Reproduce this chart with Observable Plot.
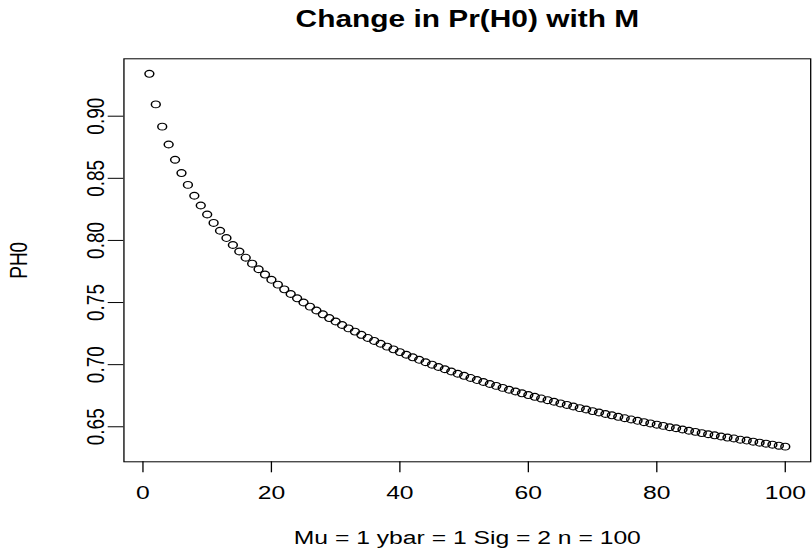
<!DOCTYPE html>
<html>
<head>
<meta charset="utf-8">
<style>
  html, body { margin: 0; padding: 0; background: #fff; }
  #chart { width: 812px; height: 551px; overflow: hidden; }
  #chart svg { display: block; transform-origin: 0 0; }
</style>
<script src="https://cdn.jsdelivr.net/npm/d3@7"></script>
<script src="https://cdn.jsdelivr.net/npm/@observablehq/plot@0.6"></script>
</head>
<body>
<div id="chart"></div>
<script>
// ---- data ----
const title = "Change in Pr(H0) with M";
const xLabel = "Mu = 1 ybar = 1 Sig = 2 n = 100";
const yLabel = "PH0";

const M = [1,2,3,4,5,6,7,8,9,10,11,12,13,14,15,16,17,18,19,20,
  21,22,23,24,25,26,27,28,29,30,31,32,33,34,35,36,37,38,39,40,
  41,42,43,44,45,46,47,48,49,50,51,52,53,54,55,56,57,58,59,60,
  61,62,63,64,65,66,67,68,69,70,71,72,73,74,75,76,77,78,79,80,
  81,82,83,84,85,86,87,88,89,90,91,92,93,94,95,96,97,98,99,100];

const PH0 = [
  0.9341,0.9095,0.8916,0.8772,0.8649,0.8542,0.8447,0.8360,0.8281,0.8209,
  0.8141,0.8078,0.8019,0.7963,0.7911,0.7861,0.7813,0.7768,0.7725,0.7683,
  0.7644,0.7606,0.7569,0.7534,0.7500,0.7467,0.7436,0.7405,0.7375,0.7347,
  0.7319,0.7292,0.7266,0.7240,0.7215,0.7191,0.7168,0.7145,0.7123,0.7101,
  0.7080,0.7059,0.7039,0.7019,0.7000,0.6981,0.6963,0.6945,0.6927,0.6910,
  0.6893,0.6876,0.6860,0.6844,0.6829,0.6813,0.6798,0.6784,0.6769,0.6755,
  0.6741,0.6728,0.6714,0.6701,0.6688,0.6676,0.6663,0.6650,0.6639,0.6626,
  0.6615,0.6603,0.6592,0.6580,0.6569,0.6559,0.6548,0.6537,0.6527,0.6517,
  0.6507,0.6496,0.6488,0.6478,0.6468,0.6459,0.6449,0.6440,0.6431,0.6422,
  0.6413,0.6406,0.6396,0.6389,0.6380,0.6372,0.6364,0.6356,0.6348,0.6340];

const xTicks = [0, 20, 40, 60, 80, 100];
const xTickLabels = ["0", "20", "40", "60", "80", "100"];
const yTicks = [0.65, 0.70, 0.75, 0.80, 0.85, 0.90];
const yTickLabels = ["0.65", "0.70", "0.75", "0.80", "0.85", "0.90"];

const xDomain = [-2.96, 103.96];
const yDomain = [0.6218, 0.9462];

// ---- build ----
const data = M.map((m, i) => ({M: m, PH0: PH0[i]}));

const W = 625;               // drawn narrower, then stretched horizontally like the reference
const SX = 812 / W;
const font = "'Liberation Sans', Arial, Helvetica, sans-serif";

const chart = Plot.plot({
  width: W,
  height: 551,
  marginTop: 58.3,
  marginBottom: 89.7,
  marginLeft: 94.9,
  marginRight: 1.5,
  style: {fontFamily: font, fontSize: "19px", background: "white", color: "black", overflow: "visible"},
  x: {domain: xDomain, ticks: xTicks, tickSize: 11, tickPadding: 12, tickFormat: () => "", label: null, axis: "bottom"},
  y: {domain: yDomain, ticks: yTicks, tickSize: 12, tickPadding: 4, tickFormat: () => "", label: null, axis: "left"},
  marks: [
    Plot.frame({stroke: "black", strokeWidth: 1}),
    Plot.text(xTicks, {x: d => d, text: (d, i) => xTickLabels[i], frameAnchor: "bottom", dy: 30.7,
      lineAnchor: "middle", textAnchor: "middle", fontSize: 19, fill: "black"}),
    Plot.text(yTicks, {y: d => d, text: (d, i) => yTickLabels[i], frameAnchor: "left", dx: -21.8,
      rotate: -90, textAnchor: "middle", lineAnchor: "middle", fontSize: 19, fill: "black"}),
    Plot.dot(data, {x: "M", y: "PH0", r: 3.4, stroke: "black", fill: "none", strokeWidth: 1.15}),
    Plot.text([title], {text: d => d, frameAnchor: "top", dy: -39.3, lineAnchor: "middle",
      textAnchor: "middle", fontWeight: "bold", fontSize: 23, fill: "black"}),
    Plot.text([yLabel], {text: d => d, frameAnchor: "left", dx: -81, rotate: -90,
      textAnchor: "middle", lineAnchor: "middle", fontSize: 19, fill: "black"}),
    Plot.text([xLabel], {text: d => d, frameAnchor: "bottom", dy: 76, lineAnchor: "middle",
      textAnchor: "middle", fontSize: 19, fill: "black"})
  ]
});
chart.style.transform = `scaleX(${SX})`;
chart.style.transformOrigin = "0 0";
chart.style.maxWidth = "none";
document.getElementById("chart").appendChild(chart);
</script>
</body>
</html>
